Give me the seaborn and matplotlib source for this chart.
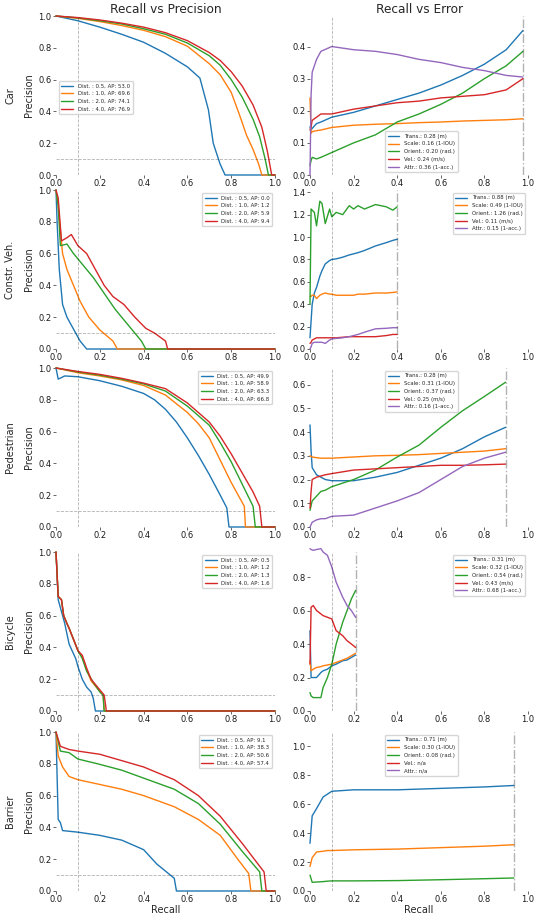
import matplotlib
matplotlib.use('Agg')
import matplotlib.pyplot as plt
import seaborn as sns

# classes / thresholds
classes = ['Car', 'Constr. Veh.', 'Pedestrian', 'Bicycle', 'Barrier']
dists = [0.5, 1.0, 2.0, 4.0]
ap = {
    'Car': [53.0, 69.6, 74.1, 76.9],
    'Constr. Veh.': [0.0, 1.2, 5.9, 9.4],
    'Pedestrian': [49.9, 58.9, 63.3, 66.8],
    'Bicycle': [0.5, 1.2, 1.3, 1.6],
    'Barrier': [9.1, 38.3, 50.6, 57.4],
}
tp_names = ['Trans.', 'Scale', 'Orient.', 'Vel.', 'Attr.']
tp_units = ['(m)', '(1-IOU)', '(rad.)', '(m/s)', '(1-acc.)']
tp_vals = {
    'Car': [0.28, 0.16, 0.20, 0.24, 0.36],
    'Constr. Veh.': [0.88, 0.49, 1.26, 0.11, 0.15],
    'Pedestrian': [0.28, 0.31, 0.37, 0.25, 0.16],
    'Bicycle': [0.31, 0.32, 0.54, 0.43, 0.68],
    'Barrier': [0.71, 0.30, 0.08, None, None],
}
max_recall = {'Car': 0.977, 'Constr. Veh.': 0.4, 'Pedestrian': 0.897,
              'Bicycle': 0.209, 'Barrier': 0.935}
min_recall = 0.1
min_precision = 0.1

# recall vs precision curves: (recall, precision) per distance threshold
pr_car = {
    0.5: ([0, 0.1, 0.2, 0.3, 0.4, 0.5, 0.6, 0.657, 0.696, 0.718, 0.749, 0.772, 1.0],
          [1.0, 0.97, 0.93, 0.885, 0.835, 0.765, 0.68, 0.61, 0.41, 0.2, 0.07, 0.0, 0.0]),
    1.0: ([0, 0.1, 0.2, 0.3, 0.4, 0.5, 0.6, 0.7, 0.75, 0.8, 0.84, 0.87, 0.9, 0.925, 0.94, 1.0],
          [1.0, 0.985, 0.965, 0.94, 0.91, 0.87, 0.81, 0.70, 0.63, 0.52, 0.37, 0.25, 0.16, 0.07, 0.0, 0.0]),
    2.0: ([0, 0.1, 0.2, 0.3, 0.4, 0.5, 0.6, 0.7, 0.75, 0.8, 0.85, 0.9, 0.93, 0.955, 0.97, 1.0],
          [1.0, 0.988, 0.97, 0.95, 0.92, 0.885, 0.83, 0.75, 0.69, 0.6, 0.49, 0.35, 0.24, 0.1, 0.0, 0.0]),
    4.0: ([0, 0.1, 0.2, 0.3, 0.4, 0.5, 0.6, 0.7, 0.75, 0.8, 0.85, 0.9, 0.94, 0.965, 0.985, 1.0],
          [1.0, 0.99, 0.975, 0.955, 0.93, 0.895, 0.845, 0.77, 0.72, 0.65, 0.56, 0.44, 0.3, 0.15, 0.0, 0.0]),
}
pr_constr = {
    0.5: ([0, 0.005, 0.015, 0.03, 0.05, 0.09, 0.11, 0.14, 1.0],
          [1.0, 0.8, 0.5, 0.28, 0.2, 0.1, 0.05, 0.0, 0.0]),
    1.0: ([0, 0.01, 0.03, 0.05, 0.08, 0.11, 0.15, 0.2, 0.26, 0.28, 1.0],
          [1.0, 0.9, 0.6, 0.5, 0.4, 0.3, 0.2, 0.12, 0.05, 0.0, 0.0]),
    2.0: ([0, 0.01, 0.02, 0.05, 0.08, 0.11, 0.17, 0.22, 0.27, 0.3, 0.33, 0.36, 0.39, 0.41, 1.0],
          [1.0, 0.9, 0.65, 0.66, 0.6, 0.55, 0.45, 0.35, 0.25, 0.2, 0.15, 0.1, 0.05, 0.0, 0.0]),
    4.0: ([0, 0.01, 0.025, 0.05, 0.07, 0.1, 0.14, 0.18, 0.22, 0.26, 0.31, 0.36, 0.41, 0.45, 0.5, 0.51, 1.0],
          [1.0, 0.95, 0.68, 0.7, 0.72, 0.65, 0.6, 0.5, 0.4, 0.33, 0.28, 0.2, 0.13, 0.1, 0.05, 0.0, 0.0]),
}
pr_ped = {
    0.5: ([0, 0.01, 0.04, 0.1, 0.2, 0.3, 0.4, 0.45, 0.5, 0.55, 0.6, 0.65, 0.7, 0.75, 0.78, 0.79, 1.0],
          [1.0, 0.93, 0.95, 0.945, 0.92, 0.885, 0.84, 0.8, 0.74, 0.66, 0.56, 0.45, 0.33, 0.2, 0.12, 0.0, 0.0]),
    1.0: ([0, 0.1, 0.2, 0.3, 0.4, 0.5, 0.6, 0.65, 0.7, 0.75, 0.8, 0.86, 0.865, 1.0],
          [1.0, 0.97, 0.95, 0.925, 0.89, 0.83, 0.72, 0.65, 0.56, 0.42, 0.28, 0.13, 0.0, 0.0]),
    2.0: ([0, 0.1, 0.2, 0.3, 0.4, 0.5, 0.6, 0.7, 0.75, 0.8, 0.85, 0.9, 0.91, 1.0],
          [1.0, 0.975, 0.955, 0.93, 0.9, 0.855, 0.76, 0.64, 0.53, 0.41, 0.27, 0.13, 0.0, 0.0]),
    4.0: ([0, 0.1, 0.2, 0.3, 0.4, 0.5, 0.6, 0.7, 0.75, 0.8, 0.85, 0.9, 0.93, 0.94, 1.0],
          [1.0, 0.978, 0.96, 0.935, 0.905, 0.87, 0.78, 0.66, 0.57, 0.46, 0.34, 0.22, 0.13, 0.0, 0.0]),
}
pr_bicycle = {
    0.5: ([0, 0.01, 0.04, 0.06, 0.09, 0.1, 0.12, 0.14, 0.16, 0.17, 0.18, 1.0],
          [1.0, 0.7, 0.55, 0.42, 0.33, 0.28, 0.2, 0.15, 0.12, 0.08, 0.0, 0.0]),
    1.0: ([0, 0.01, 0.025, 0.035, 0.05, 0.06, 0.08, 0.1, 0.12, 0.14, 0.16, 0.19, 0.215, 0.22, 1.0],
          [1.0, 0.72, 0.7, 0.6, 0.55, 0.52, 0.45, 0.38, 0.34, 0.26, 0.19, 0.14, 0.1, 0.0, 0.0]),
    2.0: ([0, 0.01, 0.025, 0.035, 0.05, 0.06, 0.08, 0.1, 0.12, 0.14, 0.17, 0.2, 0.215, 0.22, 1.0],
          [1.0, 0.72, 0.7, 0.6, 0.55, 0.52, 0.45, 0.38, 0.33, 0.25, 0.18, 0.12, 0.1, 0.0, 0.0]),
    4.0: ([0, 0.01, 0.025, 0.035, 0.05, 0.06, 0.08, 0.1, 0.12, 0.14, 0.16, 0.19, 0.22, 0.23, 1.0],
          [1.0, 0.72, 0.7, 0.6, 0.55, 0.52, 0.45, 0.38, 0.35, 0.27, 0.2, 0.15, 0.1, 0.0, 0.0]),
}
pr_barrier = {
    0.5: ([0, 0.01, 0.02, 0.03, 0.1, 0.2, 0.3, 0.4, 0.46, 0.54, 0.55, 1.0],
          [1.0, 0.45, 0.43, 0.38, 0.37, 0.35, 0.32, 0.26, 0.17, 0.08, 0.0, 0.0]),
    1.0: ([0, 0.01, 0.03, 0.06, 0.1, 0.2, 0.3, 0.4, 0.54, 0.65, 0.75, 0.83, 0.88, 0.89, 1.0],
          [1.0, 0.85, 0.78, 0.72, 0.7, 0.67, 0.64, 0.6, 0.53, 0.45, 0.35, 0.2, 0.11, 0.0, 0.0]),
    2.0: ([0, 0.02, 0.06, 0.1, 0.19, 0.3, 0.4, 0.54, 0.65, 0.75, 0.85, 0.93, 0.94, 1.0],
          [1.0, 0.88, 0.87, 0.83, 0.8, 0.76, 0.71, 0.64, 0.55, 0.42, 0.25, 0.12, 0.0, 0.0]),
    4.0: ([0, 0.02, 0.06, 0.1, 0.2, 0.3, 0.4, 0.54, 0.65, 0.75, 0.85, 0.95, 0.96, 1.0],
          [1.0, 0.91, 0.89, 0.88, 0.86, 0.82, 0.78, 0.7, 0.6, 0.47, 0.3, 0.12, 0.0, 0.0]),
}

# recall vs error curves: recall grid + one list per TP metric
tp_car_r = [0, 0.005, 0.01, 0.03, 0.05, 0.1, 0.2, 0.3, 0.4, 0.5, 0.6, 0.7, 0.8, 0.9, 0.977]
tp_car = [
    [0.15, 0.14, 0.145, 0.16, 0.165, 0.18, 0.195, 0.215, 0.235, 0.255, 0.28, 0.31, 0.345, 0.39, 0.45],
    [0.24, 0.13, 0.135, 0.138, 0.14, 0.148, 0.155, 0.158, 0.16, 0.163, 0.165, 0.168, 0.17, 0.172, 0.175],
    [0.03, 0.045, 0.055, 0.05, 0.055, 0.07, 0.1, 0.125, 0.165, 0.19, 0.22, 0.255, 0.3, 0.34, 0.385],
    [0.14, 0.15, 0.17, 0.18, 0.19, 0.19, 0.205, 0.215, 0.225, 0.23, 0.24, 0.245, 0.25, 0.265, 0.3],
    [0.0, 0.25, 0.32, 0.36, 0.385, 0.40, 0.39, 0.385, 0.375, 0.36, 0.35, 0.335, 0.325, 0.31, 0.305],
]
tp_constr_r = [0, 0.005, 0.01, 0.02, 0.03, 0.045, 0.055, 0.07, 0.09, 0.1, 0.12, 0.15, 0.18, 0.2,
               0.22, 0.25, 0.3, 0.35, 0.38, 0.4]
tp_constr = [
    [0.1, 0.25, 0.4, 0.5, 0.55, 0.65, 0.7, 0.76, 0.79, 0.8, 0.805, 0.82, 0.84, 0.85, 0.86, 0.88, 0.92, 0.95, 0.97, 0.98],
    [0.47, 0.47, 0.48, 0.48, 0.45, 0.48, 0.49, 0.50, 0.49, 0.49, 0.48, 0.48, 0.48, 0.48, 0.49, 0.49, 0.5, 0.5, 0.505, 0.51],
    [0.4, 1.25, 1.24, 1.22, 1.1, 1.32, 1.3, 1.12, 1.25, 1.18, 1.22, 1.2, 1.28, 1.25, 1.28, 1.25, 1.29, 1.27, 1.24, 1.27],
    [0.05, 0.06, 0.08, 0.09, 0.1, 0.1, 0.1, 0.1, 0.1, 0.1, 0.1, 0.105, 0.11, 0.11, 0.11, 0.11, 0.11, 0.12, 0.13, 0.13],
    [0.0, 0.02, 0.05, 0.06, 0.06, 0.06, 0.06, 0.05, 0.08, 0.09, 0.095, 0.1, 0.11, 0.12, 0.13, 0.15, 0.18, 0.185, 0.19, 0.19],
]
tp_ped_r = [0, 0.005, 0.01, 0.03, 0.05, 0.07, 0.1, 0.2, 0.3, 0.4, 0.5, 0.6, 0.7, 0.8, 0.897]
tp_ped = [
    [0.43, 0.32, 0.25, 0.22, 0.21, 0.2, 0.195, 0.195, 0.21, 0.23, 0.26, 0.29, 0.33, 0.38, 0.42],
    [0.3, 0.298, 0.295, 0.292, 0.29, 0.29, 0.29, 0.295, 0.3, 0.302, 0.305, 0.31, 0.315, 0.32, 0.33],
    [0.07, 0.09, 0.11, 0.13, 0.15, 0.155, 0.17, 0.2, 0.24, 0.295, 0.345, 0.42, 0.49, 0.55, 0.61],
    [0.08, 0.15, 0.2, 0.21, 0.215, 0.22, 0.225, 0.24, 0.245, 0.25, 0.255, 0.26, 0.26, 0.262, 0.265],
    [0.0, 0.01, 0.02, 0.03, 0.035, 0.035, 0.045, 0.05, 0.08, 0.11, 0.145, 0.2, 0.255, 0.29, 0.315],
]
tp_bicycle_r = [0, 0.005, 0.015, 0.03, 0.05, 0.06, 0.08, 0.1, 0.12, 0.15, 0.17, 0.19, 0.209]
tp_bicycle = [
    [0.48, 0.2, 0.2, 0.2, 0.23, 0.24, 0.25, 0.27, 0.28, 0.3, 0.305, 0.32, 0.335],
    [0.3, 0.24, 0.25, 0.26, 0.265, 0.27, 0.275, 0.28, 0.29, 0.305, 0.315, 0.33, 0.345],
    [0.11, 0.09, 0.08, 0.08, 0.08, 0.14, 0.2, 0.28, 0.4, 0.53, 0.6, 0.67, 0.72],
    [0.28, 0.62, 0.63, 0.6, 0.58, 0.57, 0.56, 0.55, 0.48, 0.45, 0.42, 0.4, 0.38],
    [0.97, 0.965, 0.96, 0.965, 0.97, 0.95, 0.93, 0.86, 0.77, 0.68, 0.63, 0.6, 0.56],
]
tp_barrier_r = [0, 0.01, 0.03, 0.06, 0.08, 0.1, 0.2, 0.4, 0.6, 0.8, 0.935]
tp_barrier = [
    [0.33, 0.52, 0.57, 0.65, 0.67, 0.69, 0.7, 0.7, 0.71, 0.72, 0.73],
    [0.17, 0.23, 0.27, 0.275, 0.28, 0.28, 0.285, 0.29, 0.3, 0.31, 0.32],
    [0.11, 0.06, 0.062, 0.065, 0.068, 0.07, 0.07, 0.072, 0.078, 0.085, 0.09],
    None,
    None,
]
tp_ylim = {'Car': 0.495, 'Constr. Veh.': 1.42, 'Pedestrian': 0.67, 'Bicycle': 0.95, 'Barrier': 1.1}

pr_data = {'Car': pr_car, 'Constr. Veh.': pr_constr, 'Pedestrian': pr_ped,
           'Bicycle': pr_bicycle, 'Barrier': pr_barrier}
tp_data = {'Car': (tp_car_r, tp_car), 'Constr. Veh.': (tp_constr_r, tp_constr),
           'Pedestrian': (tp_ped_r, tp_ped), 'Bicycle': (tp_bicycle_r, tp_bicycle),
           'Barrier': (tp_barrier_r, tp_barrier)}

# legend placement per panel
pr_leg = {'Car': dict(loc='upper left', bbox_to_anchor=(0.0, 0.61)),
          'Constr. Veh.': dict(loc='upper right'), 'Pedestrian': dict(loc='upper right'),
          'Bicycle': dict(loc='upper right'), 'Barrier': dict(loc='upper right')}
tp_leg = {'Car': dict(loc='lower center', bbox_to_anchor=(0.51, 0.0)),
          'Constr. Veh.': dict(loc='upper right'),
          'Pedestrian': dict(loc='upper center', bbox_to_anchor=(0.51, 1.0)),
          'Bicycle': dict(loc='upper right'),
          'Barrier': dict(loc='upper center', bbox_to_anchor=(0.51, 1.0))}

sns.set_style('ticks')
plt.rcParams['font.family'] = ['DejaVu Sans']
colors = sns.color_palette('tab10')

W, H = 541, 918
fig = plt.figure(figsize=(W / 100, H / 100), dpi=100)

rows_px = [(16, 175), (190, 349), (368, 527), (552, 711), (732, 891)]
cols_px = [(56, 275), (310, 528)]
LW = 1.0


def style_axis(ax):
    sns.despine(ax=ax, left=True, bottom=True, top=True, right=True)
    ax.tick_params(labelsize=6, length=2, width=0.6, color='0.3', labelcolor='0.1')
    ax.tick_params(axis='x', pad=0.8)
    ax.tick_params(axis='y', pad=1.2)
    ax.set_xlim(0, 1)
    ax.set_xticks([0, 0.2, 0.4, 0.6, 0.8, 1.0])


for i, name in enumerate(classes):
    top, bot = rows_px[i]
    axes = []
    for (l, r) in cols_px:
        axes.append(fig.add_axes([l / W, 1 - bot / H, (r - l) / W, (bot - top) / H]))
    ax_pr, ax_tp = axes

    # recall vs precision
    for j, d in enumerate(dists):
        rec, prec = pr_data[name][d]
        sns.lineplot(x=rec, y=prec, ax=ax_pr, color=colors[j], lw=LW, estimator=None,
                     sort=False, clip_on=False,
                     label='Dist. : {}, AP: {:.1f}'.format(d, ap[name][j]))
    ax_pr.axvline(min_recall, linestyle='--', color=(0, 0, 0, 0.3), lw=0.6)
    ax_pr.axhline(min_precision, linestyle='--', color=(0, 0, 0, 0.3), lw=0.6)
    style_axis(ax_pr)
    ax_pr.set_ylim(0, 1)
    ax_pr.set_ylabel('Precision', fontsize=7, labelpad=3)
    ax_pr.legend(fontsize=3.9, handlelength=2.2, borderpad=0.5, labelspacing=0.5,
                 **pr_leg[name])

    # recall vs error
    rec, errs = tp_data[name]
    for k, m in enumerate(tp_names):
        v = tp_vals[name][k]
        label = '{}: {} {}'.format(m, '{:.2f}'.format(v), tp_units[k]) if v is not None \
            else '{}: n/a'.format(m)
        if errs[k] is None:
            ax_tp.plot([], [], color=colors[k], lw=LW, label=label)
        else:
            sns.lineplot(x=rec, y=errs[k], ax=ax_tp, color=colors[k], lw=LW, estimator=None,
                         sort=False, clip_on=False, label=label)
    ax_tp.axvline(min_recall, linestyle='--', color=(0, 0, 0, 0.3), lw=0.6)
    ax_tp.axvline(max_recall[name], linestyle='-.', color=(0, 0, 0, 0.3), lw=1.0)
    style_axis(ax_tp)
    ax_tp.set_ylim(0, tp_ylim[name])
    ax_tp.legend(fontsize=3.9, handlelength=2.2, borderpad=0.5, labelspacing=0.5,
                 **tp_leg[name])

    fig.text(10 / W, 1 - (top + bot) / 2 / H, name, rotation=90, fontsize=7,
             ha='center', va='center')

    if i == 0:
        ax_pr.set_title('Recall vs Precision', fontsize=8.7, pad=2)
        ax_tp.set_title('Recall vs Error', fontsize=8.7, pad=2)
    if i == len(classes) - 1:
        ax_pr.set_xlabel('Recall', fontsize=7, labelpad=1)
        ax_tp.set_xlabel('Recall', fontsize=7, labelpad=1)

fig.savefig('out.png', dpi=100)
